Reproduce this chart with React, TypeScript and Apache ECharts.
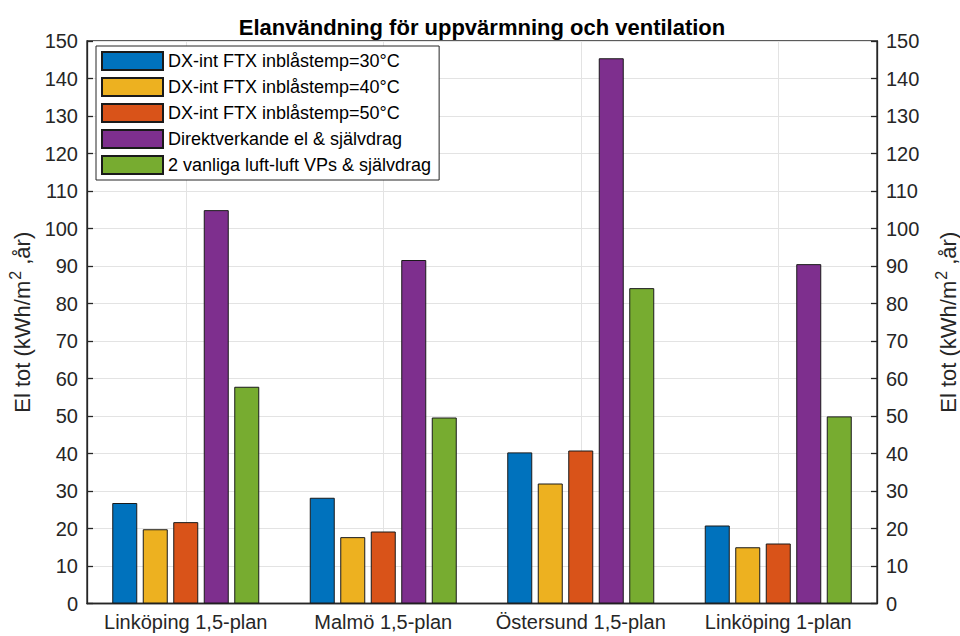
import React, { useEffect, useRef } from "react";
import * as echarts from "echarts";

const categories = ["Linköping 1,5-plan", "Malmö 1,5-plan", "Östersund 1,5-plan", "Linköping 1-plan"];
const seriesNames = [
  "DX-int FTX inblåstemp=30°C",
  "DX-int FTX inblåstemp=40°C",
  "DX-int FTX inblåstemp=50°C",
  "Direktverkande el & självdrag",
  "2 vanliga luft-luft VPs & självdrag",
];
const dx30 = [26.8, 28.2, 40.3, 20.8];
const dx40 = [19.8, 17.7, 32.0, 15.0];
const dx50 = [21.7, 19.2, 40.8, 16.0];
const direkt = [104.9, 91.6, 145.4, 90.5];
const luftluft = [57.8, 49.6, 84.1, 49.9];
const seriesValues = [dx30, dx40, dx50, direkt, luftluft];
const colors = ["#0072BD", "#EDB120", "#D95319", "#7E2F8E", "#77AC30"];

const FONT = "'Liberation Sans', Arial, Helvetica, sans-serif";
const AXIS_COLOR = "#262626";
const GRID_COLOR = "#e3e3e3";

// Helper axis with 2N+1 slots so that odd slots sit on the category centres
const centreSlots = Array.from({ length: categories.length * 2 + 1 }, (_, i) => String(i));

export default function App() {
  const ref = useRef<HTMLDivElement>(null);

  useEffect(() => {
    if (!ref.current) return;
    const chart = echarts.init(ref.current, null, { renderer: "svg" });

    const yName = "{n|El tot (kWh/m}{s|2}{n| ,år)}";
    const yNameStyle = {
      color: AXIS_COLOR,
      rich: {
        n: { fontSize: 22, fontFamily: FONT, color: AXIS_COLOR },
        s: { fontSize: 16, fontFamily: FONT, color: AXIS_COLOR, padding: [0, 0, 14, 1] },
      },
    };

    const yAxisBase = {
      type: "value" as const,
      min: 0,
      max: 150,
      interval: 10,
      nameLocation: "middle" as const,
      name: yName,
      nameTextStyle: yNameStyle,
      axisLine: { show: true, lineStyle: { color: AXIS_COLOR, width: 1.3 } },
      axisTick: { show: true, inside: true, length: 6, lineStyle: { color: AXIS_COLOR, width: 1.3 } },
      axisLabel: { color: AXIS_COLOR, fontSize: 20, fontFamily: FONT, margin: 9 },
    };

    chart.setOption({
      animation: false,
      backgroundColor: "#ffffff",
      textStyle: { fontFamily: FONT },
      title: {
        text: "Elanvändning för uppvärmning och ventilation",
        left: 477,
        textAlign: "center",
        top: 11,
        textStyle: { fontSize: 22, fontWeight: "bold", color: "#000", fontFamily: FONT },
      },
      grid: {
        left: 87,
        right: 83,
        top: 41,
        bottom: 32.5,
        containLabel: false,
        outerBoundsMode: "none",
        show: true,
        borderColor: AXIS_COLOR,
        borderWidth: 1.3,
        backgroundColor: "#ffffff",
      },
      legend: {
        orient: "vertical",
        left: 96,
        top: 46,
        data: seriesNames,
        itemWidth: 61,
        itemHeight: 18,
        itemGap: 6,
        padding: [5, 8, 5, 5],
        backgroundColor: "#ffffff",
        borderColor: AXIS_COLOR,
        borderWidth: 1,
        borderRadius: 0,
        textStyle: { fontSize: 18, lineHeight: 18, fontFamily: FONT, color: "#000" },
        icon: "rect",
      },
      xAxis: [
        {
          type: "category",
          data: categories,
          axisLine: { show: true, lineStyle: { color: AXIS_COLOR, width: 1.3 } },
          axisTick: {
            show: true,
            inside: true,
            length: 6,
            alignWithLabel: true,
            lineStyle: { color: AXIS_COLOR, width: 1.3 },
          },
          axisLabel: { color: AXIS_COLOR, fontSize: 20, fontFamily: FONT, margin: 8, interval: 0 },
          splitLine: { show: false },
        },
        {
          type: "category",
          data: centreSlots,
          boundaryGap: false,
          position: "bottom",
          axisLine: { show: false },
          axisTick: { show: false },
          axisLabel: { show: false },
          splitLine: {
            show: true,
            interval: (index: number) => index % 2 === 1,
            lineStyle: { color: GRID_COLOR, width: 1 },
          },
        },
      ],
      yAxis: [
        {
          ...yAxisBase,
          position: "left",
          nameGap: 42,
          splitLine: { show: true, lineStyle: { color: GRID_COLOR, width: 1 } },
        },
        {
          ...yAxisBase,
          position: "right",
          nameGap: 56,
          splitLine: { show: false },
        },
      ],
      series: seriesValues.map((vals, i) => ({
        name: seriesNames[i],
        type: "bar",
        xAxisIndex: 0,
        yAxisIndex: 0,
        data: vals,
        barWidth: 25,
        barGap: "22%",
        itemStyle: { color: colors[i], borderColor: "#1a1a1a", borderWidth: 1 },
        emphasis: { disabled: true },
      })),
    });

    return () => chart.dispose();
  }, []);

  return (
    <div
      ref={ref}
      style={{ position: "absolute", left: 0, top: 0, width: 960, height: 636 }}
    />
  );
}
